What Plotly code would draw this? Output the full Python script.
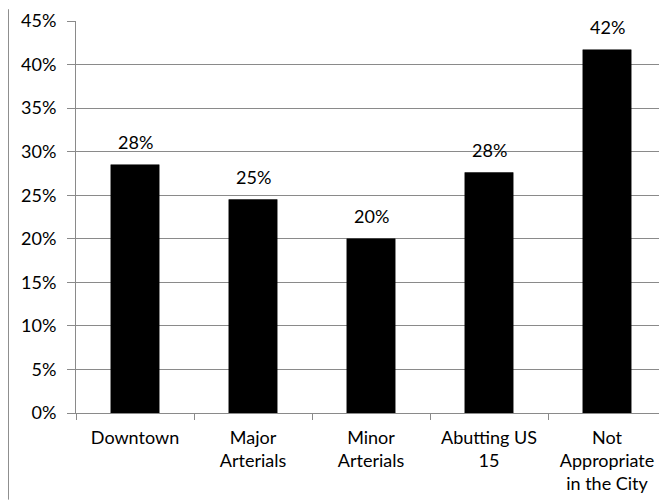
import plotly.graph_objects as go

categories = ["Downtown", "Major<br>Arterials", "Minor<br>Arterials", "Abutting US<br>15", "Not<br>Appropriate<br>in the City"]
values = [28.5, 24.5, 20.0, 27.6, 41.7]
labels = ["28%", "25%", "20%", "28%", "42%"]
y_ticks = [0, 5, 10, 15, 20, 25, 30, 35, 40, 45]
y_tick_labels = [f"{v}%" for v in y_ticks]

FONT = "Lato"
FS = 18
GRID = "#8a8a8a"

fig = go.Figure(go.Bar(
    x=categories, y=values,
    marker=dict(color="black", line=dict(color="black", width=0.5)),
))

for c, v, t in zip(categories, values, labels):
    fig.add_annotation(x=c, y=v, text=t, showarrow=False, yanchor="bottom",
                       yshift=10, font=dict(family=FONT, size=FS, color="black"))

# page body has an 8px offset, so the figure is sized/margined to compensate
fig.update_layout(
    width=659, height=494,
    margin=dict(l=68, r=1, t=11, b=89),
    paper_bgcolor="white", plot_bgcolor="white",
    bargap=0.59, showlegend=False,
    font=dict(family=FONT, size=FS, color="black"),
)
fig.update_yaxes(
    range=[0, 45], tickvals=y_ticks, ticktext=y_tick_labels,
    showgrid=True, gridcolor=GRID, gridwidth=1,
    showline=True, linecolor=GRID, linewidth=1,
    ticks="outside", ticklen=8, tickcolor=GRID,
    ticklabelstandoff=7, ticklabeloverflow="allow", zeroline=False,
)
fig.update_xaxes(
    showline=True, linecolor=GRID, linewidth=1,
    ticks="outside", ticklen=6, tickcolor=GRID, tickson="boundaries",
    ticklabelstandoff=8, showgrid=False,
)
fig.add_shape(type="line", xref="paper", yref="paper",
              x0=-0.1144, x1=-0.1144, y0=1.03, y1=-0.221,
              line=dict(color="#8f8f8f", width=1))

fig.write_html("out.html")
